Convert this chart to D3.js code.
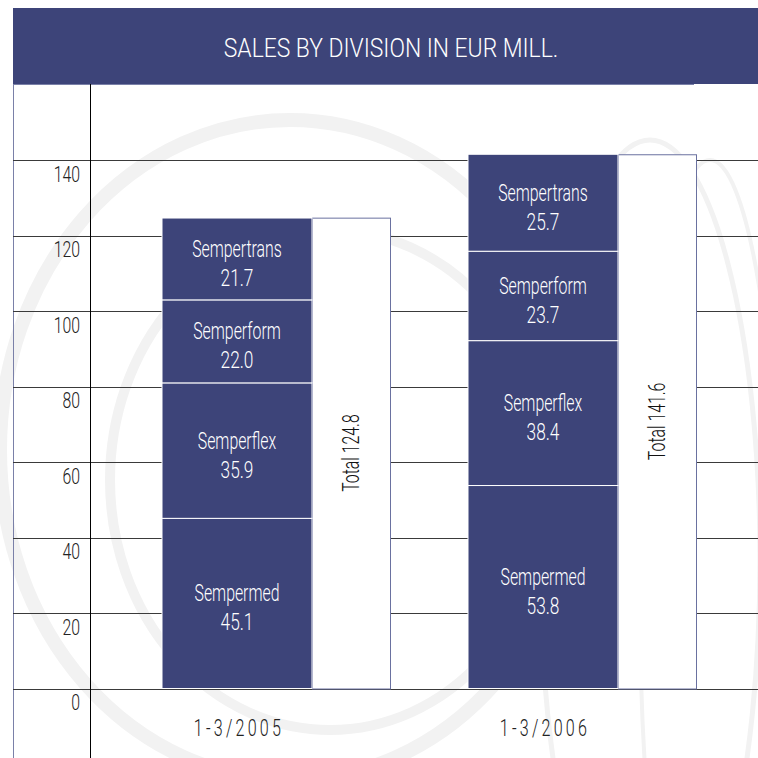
<!DOCTYPE html>
<html>
<head>
<meta charset="utf-8">
<script src="https://cdn.jsdelivr.net/npm/d3@7"></script>
<style>
  html, body { margin: 0; padding: 0; background: #fff; }
  svg { display: block; font-family: Roboto, "Liberation Sans", Arial, sans-serif; font-weight: 300; }
</style>
</head>
<body>
<svg id="chart"></svg>
<script>
// Data
const periods = ["1-3/2005", "1-3/2006"];
const divisions = ["Sempermed", "Semperflex", "Semperform", "Sempertrans"];
const sempermed = [45.1, 53.8];
const semperflex = [35.9, 38.4];
const semperform = [22.0, 23.7];
const sempertrans = [21.7, 25.7];
const totals = [124.8, 141.6];
const yTicks = [0, 20, 40, 60, 80, 100, 120, 140];

const width = 758;
const height = 758;
const bandTop = 8, bandBottom = 84;
const frameLeft = 13;
const axisX = 90;

const navy = "#3d4479";

const seriesByDivision = [sempermed, semperflex, semperform, sempertrans];
const rows = periods.map((p, i) => {
    const r = { period: p, total: totals[i] };
    divisions.forEach((d, k) => r[d] = seriesByDivision[k][i]);
    return r;
});
const stacked = d3.stack().keys(divisions)(rows);

// Scales
const y = d3.scaleLinear()
    .domain([0, 140])
    .range([688.5, 160.3]);

const x = d3.scaleBand()
    .domain(periods)
    .range([109, 721]);

const stackW = 150, totalW = 78;
const stackX = p => x(p) + 53;

const svg = d3.select("#chart")
    .attr("width", width)
    .attr("height", height)
    .attr("viewBox", [0, 0, width, height]);

// condensed look: normal font squeezed horizontally
function narrowText(g, cx, cy, str, size, sx, opts = {}) {
    const t = g.append("text")
        .attr("transform", `translate(${cx},${cy})${opts.rotate ? " rotate(" + opts.rotate + ")" : ""} scale(${sx},1)`)
        .attr("text-anchor", opts.anchor || "middle")
        .attr("font-size", size)
        .attr("fill", opts.fill || "#222")
        .text(str);
    if (opts.spacing) t.attr("letter-spacing", opts.spacing);
    return t;
}

// faint background swirls
const deco = svg.append("g")
    .attr("fill", "none")
    .attr("stroke", "#f2f2f2");
deco.append("ellipse").attr("cx", 290).attr("cy", 450).attr("rx", 290).attr("ry", 330).attr("stroke-width", 14);
deco.append("ellipse").attr("cx", 330).attr("cy", 480).attr("rx", 220).attr("ry", 250).attr("stroke-width", 10);
deco.append("ellipse").attr("cx", 650).attr("cy", 560).attr("rx", 110).attr("ry", 420).attr("stroke-width", 5);
deco.append("ellipse").attr("cx", 710).attr("cy", 600).attr("rx", 70).attr("ry", 440).attr("stroke-width", 4);

// title band
svg.append("rect")
    .attr("x", frameLeft)
    .attr("y", bandTop)
    .attr("width", width - frameLeft)
    .attr("height", bandBottom - bandTop)
    .attr("fill", navy);

narrowText(svg, 391, 57, "SALES BY DIVISION IN EUR MILL.", 26, 0.88, { fill: "#fff" });

// frame lines
svg.append("line")
    .attr("x1", frameLeft + 0.5).attr("x2", frameLeft + 0.5)
    .attr("y1", bandBottom).attr("y2", height)
    .attr("stroke", "#7a80a8");
svg.append("line")
    .attr("x1", frameLeft).attr("x2", 694)
    .attr("y1", bandBottom + 0.5).attr("y2", bandBottom + 0.5)
    .attr("stroke", "#7a80a8");

// gridlines + tick labels
const grid = svg.append("g");
grid.selectAll("line")
  .data(yTicks)
  .join("line")
    .attr("x1", frameLeft)
    .attr("x2", width)
    .attr("y1", d => Math.round(y(d)) + 0.5)
    .attr("y2", d => Math.round(y(d)) + 0.5)
    .attr("stroke", "#3a3a3a")
    .attr("stroke-width", 1);

yTicks.forEach(d => narrowText(grid, 80, y(d) + 21.5, d, 22, 0.72, { anchor: "end" }));

// y axis line
svg.append("line")
    .attr("x1", axisX + 0.5).attr("x2", axisX + 0.5)
    .attr("y1", bandBottom).attr("y2", height)
    .attr("stroke", "#000");

// total bars
svg.append("g")
  .selectAll("rect")
  .data(rows)
  .join("rect")
    .attr("x", d => stackX(d.period) + stackW + 0.5)
    .attr("y", d => y(d.total) + 0.5)
    .attr("width", totalW)
    .attr("height", d => y(0) - y(d.total))
    .attr("fill", "#fff")
    .attr("stroke", "#6a71a0")
    .attr("stroke-width", 1);

const totalG = svg.append("g");
rows.forEach(d => narrowText(totalG,
    stackX(d.period) + stackW + totalW / 2 + 8,
    (y(d.total) + y(0)) / 2,
    `Total ${d.total.toFixed(1)}`, 24, 0.66, { rotate: -90, fill: "#111" }));

// stacked segments
const seg = svg.append("g")
  .selectAll("g")
  .data(stacked)
  .join("g");

seg.selectAll("rect")
  .data(s => s.map(v => ({ key: s.key, v })))
  .join("rect")
    .attr("x", d => stackX(d.v.data.period))
    .attr("y", d => y(d.v[1]))
    .attr("width", stackW)
    .attr("height", d => y(d.v[0]) - y(d.v[1]))
    .attr("fill", navy)
    .attr("stroke", "#fff")
    .attr("stroke-width", 1);

const labelG = svg.append("g");
stacked.forEach(s => s.forEach(v => {
    const cx = stackX(v.data.period) + stackW / 2;
    const mid = (y(v[0]) + y(v[1])) / 2;
    narrowText(labelG, cx, mid - 2, s.key, 24, 0.66, { fill: "#fff" });
    narrowText(labelG, cx, mid + 27, (v[1] - v[0]).toFixed(1), 24, 0.72, { fill: "#fff" });
}));

// x labels
const xG = svg.append("g");
periods.forEach(p => narrowText(xG, stackX(p) + 77, 736, p, 23, 0.7, { spacing: 4.6 }));
</script>
</body>
</html>
